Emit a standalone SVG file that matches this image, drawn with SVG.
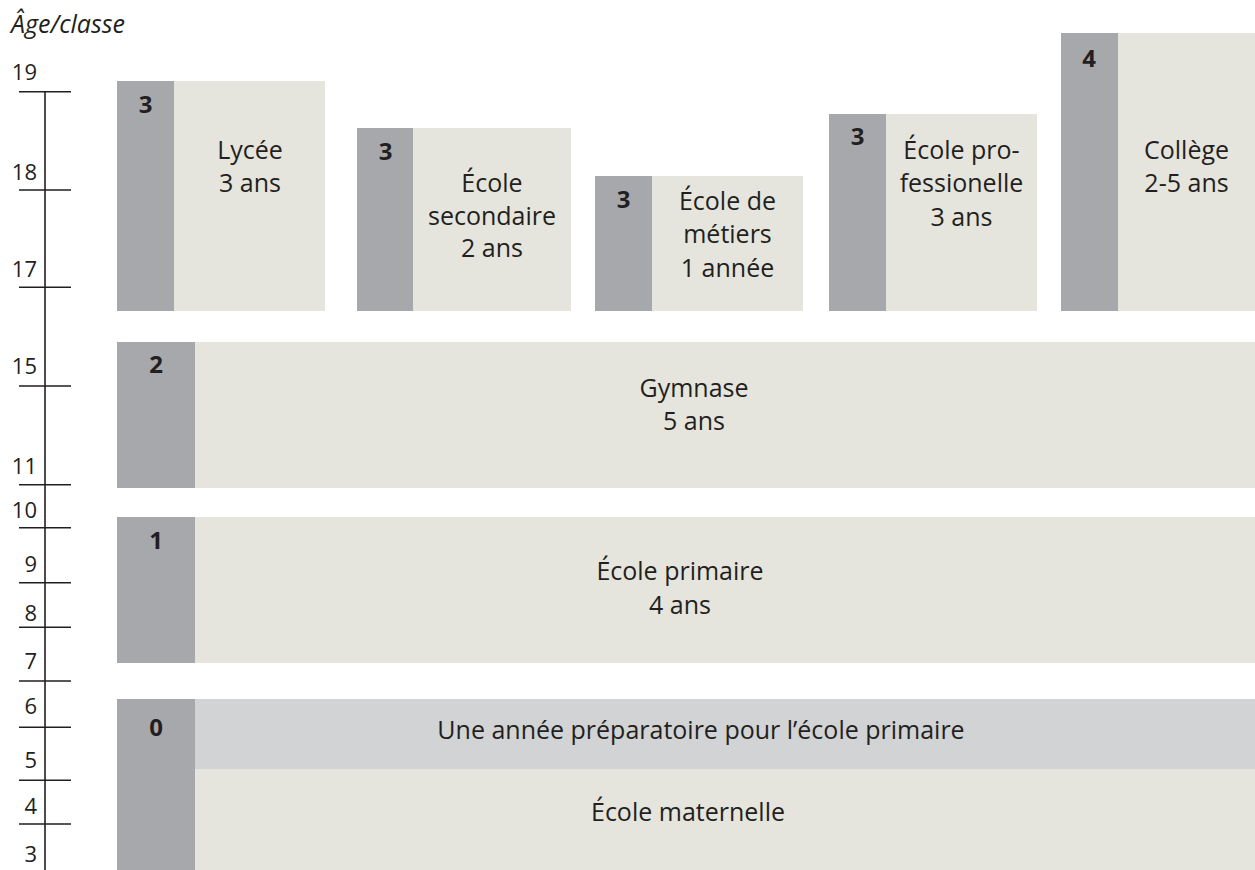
<svg xmlns="http://www.w3.org/2000/svg" width="1255" height="870" viewBox="0 0 1255 870">
<style>
.dk{fill:#a7a8ac}
.lt{fill:#e5e5dd}
.pr{fill:#d1d3d4}
.t{font-family:"Open Sans","Noto Sans","Liberation Sans",sans-serif;font-size:25px;fill:#231f20;text-anchor:middle}
.n{font-family:"Open Sans","Noto Sans","Liberation Sans",sans-serif;font-size:24px;font-weight:bold;fill:#231f20;text-anchor:middle}
.ax{font-family:"Open Sans","Noto Sans","Liberation Sans",sans-serif;font-size:22px;fill:#231f20;text-anchor:end}
.ttl{font-family:"Open Sans","Noto Sans","Liberation Sans",sans-serif;font-size:25px;font-style:italic;fill:#231f20}
.axl{stroke:#231f20;stroke-width:1.6;fill:none}
</style>
<rect width="1255" height="870" fill="#ffffff"/>
<text class="ttl" x="11" y="33">Âge/classe</text>
<g id="axis">
<line class="axl" x1="45" y1="91.7" x2="45" y2="870"/>
<path class="axl" d="M19 91.7H71M19 190H71M19 287.3H71M19 386H71M19 484.7H71M19 527.7H71M19 582.7H71M19 627.3H71M19 681H71M19 727.3H71M19 780.3H71M19 824H71"/>
<text class="ax" x="37" y="80">19</text>
<text class="ax" x="37" y="180">18</text>
<text class="ax" x="37" y="277">17</text>
<text class="ax" x="37" y="374">15</text>
<text class="ax" x="37" y="474">11</text>
<text class="ax" x="37" y="518">10</text>
<text class="ax" x="37" y="572">9</text>
<text class="ax" x="37" y="621">8</text>
<text class="ax" x="37" y="669">7</text>
<text class="ax" x="37" y="714">6</text>
<text class="ax" x="37" y="768">5</text>
<text class="ax" x="37" y="814">4</text>
<text class="ax" x="37" y="862">3</text>
</g>
<g id="connectors"></g>
<g id="lycee">
<rect class="dk" x="117" y="81" width="57" height="230"/>
<rect class="lt" x="174" y="81" width="151" height="230"/>
<text class="n" x="145.5" y="113">3</text>
<text class="t" x="250" y="158.5">Lycée</text>
<text class="t" x="250" y="192">3 ans</text>
</g>
<g id="ecole-secondaire">
<rect class="dk" x="357" y="128" width="56" height="183"/>
<rect class="lt" x="413" y="128" width="158" height="183"/>
<text class="n" x="385.5" y="160">3</text>
<text class="t" x="492" y="191.5">École</text>
<text class="t" x="492" y="225">secondaire</text>
<text class="t" x="492" y="257">2 ans</text>
</g>
<g id="ecole-metiers">
<rect class="dk" x="595" y="176" width="57" height="135"/>
<rect class="lt" x="652" y="176" width="151" height="135"/>
<text class="n" x="623.5" y="207.5">3</text>
<text class="t" x="727.5" y="209.5">École de</text>
<text class="t" x="727.5" y="242.5">métiers</text>
<text class="t" x="727.5" y="276.5">1 année</text>
</g>
<g id="ecole-pro">
<rect class="dk" x="829" y="114" width="57" height="197"/>
<rect class="lt" x="886" y="114" width="151" height="197"/>
<text class="n" x="857.5" y="145">3</text>
<text class="t" x="961.5" y="158.5">École pro-</text>
<text class="t" x="961.5" y="192">fessionelle</text>
<text class="t" x="961.5" y="226">3 ans</text>
</g>
<g id="college">
<rect class="dk" x="1061" y="33" width="57" height="278"/>
<rect class="lt" x="1118" y="33" width="137" height="278"/>
<text class="n" x="1089" y="66.5">4</text>
<text class="t" x="1186.5" y="158.5">Collège</text>
<text class="t" x="1186.5" y="192">2-5 ans</text>
</g>
<g id="gymnase">
<rect class="dk" x="117" y="342" width="78" height="146"/>
<rect class="lt" x="195" y="342" width="1060" height="146"/>
<text class="n" x="156" y="372.5">2</text>
<text class="t" x="694" y="397">Gymnase</text>
<text class="t" x="694" y="430">5 ans</text>
</g>
<g id="ecole-primaire">
<rect class="dk" x="117" y="517" width="78" height="146"/>
<rect class="lt" x="195" y="517" width="1060" height="146"/>
<text class="n" x="156" y="549">1</text>
<text class="t" x="680" y="580">École primaire</text>
<text class="t" x="680" y="614">4 ans</text>
</g>
<g id="ecole-maternelle">
<rect class="dk" x="117" y="699" width="78" height="171"/>
<rect class="pr" x="195" y="699" width="1060" height="70"/>
<rect class="lt" x="195" y="769" width="1060" height="101"/>
<text class="n" x="156" y="736">0</text>
<text class="t" x="701" y="738.5">Une année préparatoire pour l’école primaire</text>
<text class="t" x="688" y="821">École maternelle</text>
</g>
</svg>
